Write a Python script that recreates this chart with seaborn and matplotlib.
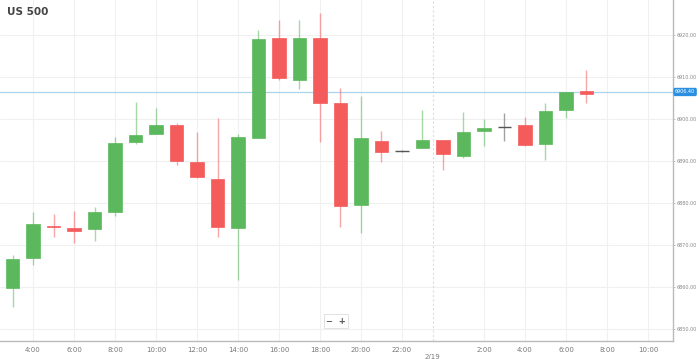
import seaborn as sns
import pandas as pd
import matplotlib.pyplot as plt

# hourly candles, hour 3 = 2/18 3:00 ... hour 31 = 2/19 7:00
hours = list(range(3, 32))
opens = [6859.8, 6866.9, 6874.6, 6874.1, 6873.8, 6877.9, 6894.5, 6896.4, 6898.6, 6889.8,
         6885.7, 6874.0, 6895.5, 6919.3, 6909.3, 6919.3, 6903.8, 6879.5, 6894.8, 6892.3,
         6893.1, 6895.0, 6891.2, 6897.1, 6898.1, 6898.6, 6894.0, 6902.1, 6906.7]
closes = [6866.7, 6875.0, 6874.2, 6873.3, 6877.9, 6894.3, 6896.2, 6898.6, 6890.0, 6886.2,
          6874.3, 6895.7, 6919.0, 6909.8, 6919.3, 6903.8, 6879.3, 6895.5, 6892.1, 6892.3,
          6895.0, 6891.7, 6896.9, 6897.9, 6898.1, 6893.8, 6901.9, 6906.4, 6906.0]
highs = [6867.6, 6877.9, 6877.4, 6878.1, 6879.0, 6895.7, 6904.0, 6902.6, 6899.0, 6896.9,
         6900.2, 6896.5, 6921.2, 6923.6, 6923.6, 6925.2, 6907.4, 6905.5, 6897.1, 6892.6,
         6902.1, 6895.0, 6901.7, 6900.0, 6901.4, 6900.5, 6903.8, 6906.4, 6911.7]
lows = [6855.2, 6865.2, 6871.9, 6870.5, 6871.0, 6876.9, 6894.0, 6896.4, 6889.0, 6886.0,
        6871.9, 6861.7, 6895.5, 6909.3, 6907.1, 6894.5, 6874.3, 6872.9, 6889.8, 6892.0,
        6893.0, 6887.9, 6890.7, 6893.6, 6894.8, 6893.6, 6890.2, 6900.2, 6903.8]
last_price = 6906.4

tick_hours = [4, 6, 8, 10, 12, 14, 16, 18, 20, 22, 26, 28, 30, 32, 34]
tick_labels = ['4:00', '6:00', '8:00', '10:00', '12:00', '14:00', '16:00', '18:00',
               '20:00', '22:00', '2:00', '4:00', '6:00', '8:00', '10:00']
day_hour = 23.5
y_ticks = [6850, 6860, 6870, 6880, 6890, 6900, 6910, 6920]

df = pd.DataFrame({'hour': hours, 'open': opens, 'close': closes, 'high': highs, 'low': lows})
green = '#5cb85c'
red = '#f45b5b'
df['color'] = [green if c > o else (red if c < o else '#555555') for o, c in zip(df['open'], df['close'])]

sns.set_style('white')
fig = plt.figure(figsize=(6.99, 3.59), dpi=100)
ax = fig.add_axes([0, 18 / 359, 673 / 699, 341 / 359])

# grid
for h in tick_hours:
    ax.axvline(h, color='#f0f0f0', lw=0.8, zorder=0)
for v in y_ticks:
    ax.axhline(v, color='#f0f0f0', lw=0.8, zorder=0)
ax.axvline(day_hour, color='#dddddd', lw=0.8, ls=(0, (2, 2)), zorder=0)

# wicks
ax.vlines(df['hour'], df['low'], df['high'], colors=df['color'], alpha=0.55, lw=1.0, zorder=2)
# bodies
w = 0.64
body_low = df[['open', 'close']].min(axis=1)
body_h = (df['close'] - df['open']).abs().clip(lower=0.35)
flat = df['open'] == df['close']
ax.bar(df['hour'][~flat], body_h[~flat], bottom=body_low[~flat], width=w,
       color=df['color'][~flat], edgecolor=df['color'][~flat], lw=0.5, zorder=3)
ax.hlines(df['close'][flat], df['hour'][flat] - w / 2, df['hour'][flat] + w / 2,
          colors=df['color'][flat], lw=1.0, zorder=3)

# last price line
ax.axhline(last_price, color='#a8d4ee', lw=0.9, zorder=1)

ax.set_xlim(2.39, 35.22)
ax.set_ylim(6847.1, 6928.3)
ax.set_xticks(tick_hours + [day_hour])
ax.set_xticklabels(tick_labels + ['\n2/19'], fontsize=5, color='#777777')
ax.yaxis.tick_right()
ax.set_yticks(y_ticks)
ax.set_yticklabels(['%.2f' % v for v in y_ticks], fontsize=3.5, color='#888888')
ax.tick_params(axis='x', length=2, width=0.5, color='#aaaaaa', pad=2)
ax.tick_params(axis='y', length=1.5, width=0.5, color='#aaaaaa', pad=1)
for s in ['top', 'left']:
    ax.spines[s].set_visible(False)
for s in ['bottom', 'right']:
    ax.spines[s].set_color('#bbbbbb')
    ax.spines[s].set_linewidth(1.0)

ax.text(1.003, last_price, '%.2f' % last_price, transform=ax.get_yaxis_transform(),
        fontsize=3.5, color='white', va='center', ha='left',
        bbox=dict(boxstyle='round,pad=0.2', fc='#2a8fe0', ec='#2a8fe0'))

ax.text(7 / 673, 1 - 12 / 341, 'US 500', transform=ax.transAxes, fontsize=7.5,
        fontweight='bold', color='#444444', va='center', ha='left')
ax.text(336 / 673, (341 - 321) / 341, '\u2212  +', transform=ax.transAxes, fontsize=6,
        fontweight='bold', color='#555555', va='center', ha='center',
        bbox=dict(boxstyle='square,pad=0.3', fc='white', ec='#dddddd', lw=0.6))

fig.savefig('out.png', dpi=100)
